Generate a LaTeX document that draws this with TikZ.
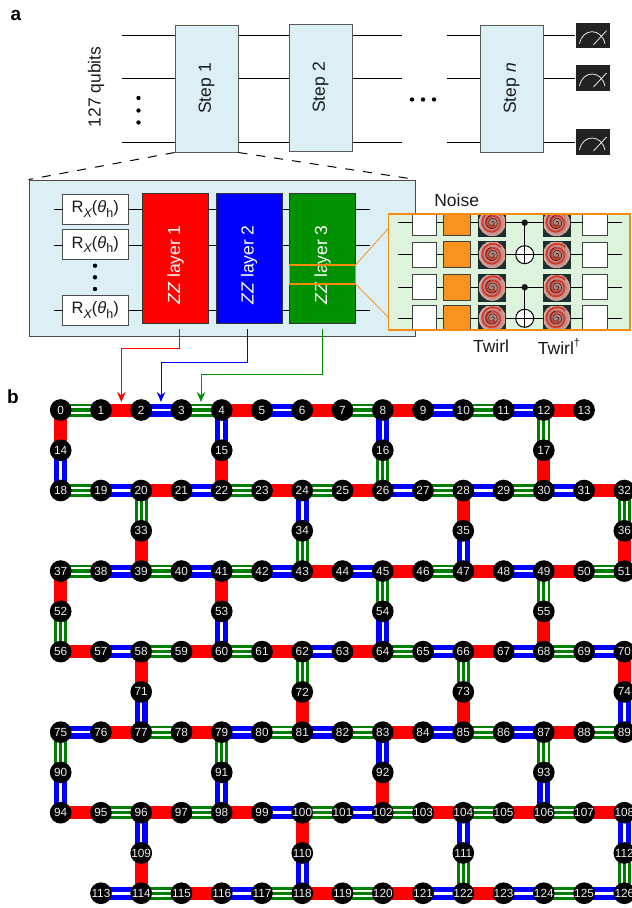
\documentclass[tikz,border=0pt]{standalone}
\usepackage{graphicx}
\usepackage{fontspec}
\setmainfont{Liberation Sans}
\usetikzlibrary{arrows.meta,backgrounds,calc}
\definecolor{paleblue}{HTML}{DCEFF5}
\definecolor{palegreen}{HTML}{DDF3DC}
\definecolor{noiseorange}{HTML}{F7931E}
\definecolor{frameorange}{HTML}{F58A0B}
\definecolor{zzgreen}{HTML}{009000}
\definecolor{edgegreen}{HTML}{008000}
\definecolor{meterdark}{HTML}{222222}
\definecolor{ink}{HTML}{1A1A1A}
\definecolor{twcorner}{HTML}{1C2E2E}
\definecolor{twred}{HTML}{D23C2C}
\definecolor{twdark}{HTML}{5A1A18}
\definecolor{twa}{HTML}{A08888}
\definecolor{twb}{HTML}{C89088}
\definecolor{twc}{HTML}{F0D8CC}
\definecolor{twd}{HTML}{F8F0EA}
\definecolor{twe}{HTML}{90A8A0}
\definecolor{twf}{HTML}{304848}
\pgfdeclareradialshading{twirlshade}{\pgfpoint{0bp}{0bp}}{
  color(0bp)=(twa);
  color(20bp)=(twb);
  color(30bp)=(twc);
  color(42bp)=(twd);
  color(47bp)=(twe);
  color(50bp)=(twf)}
\newcommand{\bigtext}{\fontsize{17.5}{20}\selectfont}
\newcommand{\rxsub}[1]{\raisebox{-0.28em}{\fontsize{12.5}{14}\selectfont #1}}
\newcommand{\rxlabel}{\fontsize{16.5}{20}\selectfont R\rxsub{\itshape X}(\textit{θ}\rxsub{h})}
\newcommand{\zzlabel}[1]{\rotatebox{90}{\textit{ZZ} layer #1\hspace*{13pt}}}
\newcommand{\twirlmark}[2]{%
  \fill[twcorner] (#1-13.5,#2-13.5) rectangle (#1+13.5,#2+13.5);
  \shade[shading=twirlshade] (#1,#2) circle (13.5);
  \draw[twred,line width=2pt,domain=0:640,samples=70,smooth,variable=\t]
    plot ({#1+(4+0.0118*\t)*cos(\t+40)},{#2+(4+0.0118*\t)*sin(\t+40)});
  \draw[twdark,line width=0.7pt,domain=0:760,samples=70,smooth,variable=\t]
    plot ({#1+(0.8+0.0085*\t)*cos(\t+220)},{#2+(0.8+0.0085*\t)*sin(\t+220)});
  \draw[twcorner,line width=0.6pt] (#1-13.5,#2-13.5) rectangle (#1+13.5,#2+13.5);
}
\tikzset{
  wire/.style={draw=black,line width=1pt},
  stepbox/.style={draw=black!65,fill=paleblue,line width=1pt,minimum width=63pt,minimum height=127pt,inner sep=0pt,font=\bigtext,text=ink},
  meterbox/.style={fill=meterdark,minimum width=34pt,minimum height=25.5pt,inner sep=0pt},
  meterline/.style={draw=white,line width=0.7pt},
  rxbox/.style={draw=black!70,fill=white,line width=1pt,minimum width=66pt,minimum height=30.3pt,inner sep=0pt,text=ink},
  zzbox/.style={draw=black!80,line width=1pt,minimum width=66pt,minimum height=130.7pt,inner sep=0pt,font=\bigtext,text=white},
  gatebox/.style={draw=black!75,fill=white,line width=1pt,minimum width=24.7pt,minimum height=25pt,inner sep=0pt},
  noisebox/.style={draw=black!75,fill=noiseorange,line width=1pt,minimum width=27pt,minimum height=26.5pt,inner sep=0pt},
  ctrl/.style={circle,fill=ink,minimum size=6.5pt,inner sep=0pt},
  target/.style={circle,draw=black,fill=white,line width=1pt,minimum size=18pt,inner sep=0pt},
  caption/.style={font=\bigtext,text=ink,inner sep=0pt},
  paneltag/.style={font=\fontsize{19}{20}\selectfont\bfseries,text=black,inner sep=0pt},
  dot/.style={circle,fill=black,minimum size=4.4pt,inner sep=0pt},
  qb/.style={circle,fill=black,minimum size=21.7pt,inner sep=0pt,text=white!93!black,font=\fontsize{11.8}{12}\selectfont},
  redge/.style={draw=red,line width=13pt},
  bedge/.style={draw=blue,line width=13pt},
  wcore/.style={draw=white,line width=2.5pt},
  gedge/.style={draw=edgegreen,line width=13pt},
  gwhite/.style={draw=white,line width=7.4pt},
  gcore/.style={draw=edgegreen,line width=3.3pt},
  layerarrow/.style={line width=1pt,-{Stealth[length=10pt,width=8.5pt]}},
}
\begin{document}
\begin{tikzpicture}[x=1pt,y=-1pt]
\clip (0,0) rectangle (632,908);
\path[use as bounding box] (0,0) rectangle (632,908);

% ---------- panel tags
\node[paneltag] (taga) at (16,15) {a};
\node[paneltag] (tagb) at (13,397) {b};

% ---------- top circuit
\node[stepbox] (step1) at (206.5,88.5) {\rotatebox{90}{Step 1}};
\node[stepbox] (step2) at (320.5,87.5) {\rotatebox{90}{Step 2}};
\node[stepbox] (stepn) at (511.5,88.5) {\rotatebox{90}{Step \textit{n}}};
\node[meterbox] (meter1) at (592.5,35.7) {};
\node[meterbox] (meter2) at (592.5,78) {};
\node[meterbox] (meter3) at (592.5,142) {};
\foreach \i/\yy in {1/35,2/78,3/142}{
  \coordinate (ql\i) at (121.5,\yy);
  \coordinate (qr\i) at (401.5,\yy);
  \coordinate (qs\i) at (446.5,\yy);
  \draw[wire] (ql\i) -- (ql\i -| step1.west);
  \draw[wire] (ql\i -| step1.east) -- (ql\i -| step2.west);
  \draw[wire] (ql\i -| step2.east) -- (qr\i);
  \draw[wire] (qs\i) -- (qs\i -| stepn.west);
  \draw[wire] (qs\i -| stepn.east) -- (qs\i -| meter\i.west);
  \draw[meterline] ($(meter\i.center)+(-13,8)$) .. controls ($(meter\i.center)+(-10,-8)$) and ($(meter\i.center)+(9,-8)$) .. ($(meter\i.center)+(12.5,8)$);
  \draw[meterline] ($(meter\i.center)+(1,9)$) -- ($(meter\i.center)+(14,-5)$);
}
\node[caption] (qubits) at (96,87) {\rotatebox{90}{127 qubits}};
\node[dot] (vd1) at (138.5,98) {};
\node[dot] (vd2) at (138.5,110.5) {};
\node[dot] (vd3) at (138.5,122.5) {};
\node[dot] (hd1) at (412,99.5) {};
\node[dot] (hd2) at (423,99.5) {};
\node[dot] (hd3) at (434,99.5) {};

% ---------- expanded step
\node[draw=black!70,fill=paleblue,line width=1pt,minimum width=386.7pt,minimum height=156.7pt,inner sep=0pt] (panel) at (222.4,258.4) {};
\draw[wire,dash pattern=on 9pt off 9pt] (step1.south west) -- (panel.north west);
\draw[wire,dash pattern=on 9pt off 9pt] (step1.south east) -- (panel.north east);

\node[rxbox] (rx1) at (95.3,209.3) {\rxlabel};
\node[rxbox] (rx2) at (95.3,244.5) {\rxlabel};
\node[rxbox] (rx3) at (95.3,310.2) {\rxlabel};
\node[zzbox,fill=red] (zz1) at (175.7,258.4) {\zzlabel{1}};
\node[zzbox,fill=blue] (zz2) at (249.2,258.4) {\zzlabel{2}};
\node[zzbox,fill=zzgreen] (zz3) at (322.5,258.4) {\zzlabel{3}};
\foreach \i/\yy in {1/209.3,2/245.3,3/310.3}{
  \coordinate (pin\i) at (54,\yy);
  \coordinate (pout\i) at (370,\yy);
  \draw[wire] (pin\i) -- (pin\i -| rx\i.west);
  \draw[wire] (pin\i -| rx\i.east) -- (pin\i -| zz1.west);
  \draw[wire] (pin\i -| zz1.east) -- (pin\i -| zz2.west);
  \draw[wire] (pin\i -| zz2.east) -- (pin\i -| zz3.west);
  \draw[wire] (pin\i -| zz3.east) -- (pout\i);
}
\node[dot] (rd1) at (95,265.7) {};
\node[dot] (rd2) at (95,277.3) {};
\node[dot] (rd3) at (95,289) {};
\node[draw=frameorange,line width=1.5pt,minimum width=66pt,minimum height=19pt,inner sep=0pt] (small) at (322.5,274.5) {};

% ---------- zoomed gate block
\node[fill=palegreen,minimum width=241.3pt,minimum height=116pt,inner sep=0pt] (zoombg) at (509.35,272) {};
\begin{scope}
  \clip (388.7,214) rectangle (630,330);
  \foreach \i/\yy in {1/222.7,2/254.7,3/287.3,4/318.3}{
    \coordinate (zin\i) at (398,\yy);
    \coordinate (zout\i) at (621.7,\yy);
    \draw[wire] (zin\i) -- (zout\i);
    \node[gatebox] (gl\i) at (424.4,\yy) {};
    \node[noisebox] (nz\i) at (457.2,\yy) {};
    \node[gatebox] (gr\i) at (594.8,\yy) {};
    \twirlmark{492.2}{\yy}
    \twirlmark{556.5}{\yy}
  }
  \node[ctrl] (c1) at (524.7,222.7) {};
  \node[target] (t1) at (524.7,254.7) {};
  \draw[wire] (c1.center) -- (t1.south);
  \draw[wire] (t1.west) -- (t1.east);
  \node[ctrl] (c2) at (524.7,287.3) {};
  \node[target] (t2) at (524.7,318.3) {};
  \draw[wire] (c2.center) -- (t2.south);
  \draw[wire] (t2.west) -- (t2.east);
\end{scope}
\node[draw=frameorange,line width=1.5pt,minimum width=241.3pt,minimum height=116pt,inner sep=0pt] (zoomframe) at (509.35,272) {};
\coordinate (zoomup) at (388.7,228);
\coordinate (zoomlo) at (388.7,317.7);
\draw[draw=noiseorange,line width=0.8pt] (small.north east) -- (zoomup);
\draw[draw=noiseorange,line width=0.8pt] (small.south east) -- (zoomlo);
\node[caption] (noiselab) at (456.7,200.5) {Noise};
\node[caption] (twirla) at (491,346.5) {Twirl};
\node[caption] (twirlb) at (559,346.5) {Twirl\raisebox{0.42em}{\fontsize{11}{12}\selectfont †}};

% ---------- device nodes
\foreach \rw/\first/\cola/\colb in {0/0/0/13,2/18/0/14,4/37/0/14,6/56/0/14,8/75/0/14,10/94/0/14,12/113/1/14}{
  \foreach \cc in {\cola,...,\colb}{
    \pgfmathtruncatemacro{\idn}{\first+\cc-\cola}
    \node[qb] (n\idn) at ({60.7+40.26*\cc},{410+40.27*\rw}) {\idn};
  }
}
\foreach \rw/\first/\cc in {1/14/0,3/33/2,5/52/0,7/71/2,9/90/0,11/109/2}{
  \foreach \k in {0,1,2,3}{
    \pgfmathtruncatemacro{\idn}{\first+\k}
    \node[qb] (n\idn) at ({60.7+40.26*(\cc+4*\k)},{410+40.27*\rw}) {\idn};
  }
}

% ---------- device couplings
\begin{scope}[on background layer]
\foreach \a/\b in {1/2,4/5,6/7,8/9,12/13,0/14,15/22,17/30,20/21,23/24,25/26,31/32,33/39,28/35,36/51,43/44,45/46,47/48,49/50,37/52,41/53,55/68,56/57,59/60,61/62,63/64,66/67,58/71,72/81,73/85,70/74,76/77,78/79,83/84,87/88,92/102,94/95,96/97,98/99,103/104,105/106,107/108,109/114,100/110,115/116,118/119,120/121,122/123}
  \draw[redge] (n\a.center) -- (n\b.center);
\foreach \a/\b in {2/3,5/6,9/10,11/12,14/18,4/15,8/16,19/20,21/22,26/27,28/29,30/31,24/34,35/47,38/39,40/41,42/43,44/45,48/49,53/60,54/64,57/58,62/63,65/66,67/68,69/70,71/77,74/89,75/76,79/80,81/82,84/85,86/87,83/92,90/94,91/98,93/106,99/100,101/102,96/109,110/118,104/111,108/112,113/114,116/117,121/122,123/124,125/126}{
  \draw[bedge] (n\a.center) -- (n\b.center);
  \draw[wcore] (n\a.center) -- (n\b.center);
}
\foreach \a/\b in {0/1,3/4,7/8,10/11,16/26,12/17,18/19,22/23,24/25,27/28,29/30,20/33,34/43,32/36,37/38,39/40,41/42,46/47,50/51,52/56,45/54,49/55,58/59,60/61,64/65,68/69,62/72,66/73,77/78,80/81,82/83,85/86,88/89,75/90,79/91,87/93,95/96,97/98,100/101,102/103,104/105,106/107,111/122,112/126,114/115,117/118,119/120,124/125}{
  \draw[gedge] (n\a.center) -- (n\b.center);
  \draw[gwhite] (n\a.center) -- (n\b.center);
  \draw[gcore] (n\a.center) -- (n\b.center);
}
\end{scope}

% ---------- layer arrows
\coordinate (rstart) at (179.3,329.3);
\coordinate (bstart) at (247.3,329.3);
\coordinate (gstart) at (322.7,329.3);
\coordinate (rend) at (121.3,402);
\coordinate (bend) at (161,402);
\coordinate (gend) at (201,402);
\coordinate (rbend) at (121.3,348.3);
\coordinate (bbend) at (161,362.3);
\coordinate (gbend) at (201,374.3);
\draw[layerarrow,draw=red] (rstart) |- (rbend) -- (rend);
\draw[layerarrow,draw=blue] (bstart) |- (bbend) -- (bend);
\draw[layerarrow,draw=zzgreen] (gstart) |- (gbend) -- (gend);
\end{tikzpicture}
\end{document}
